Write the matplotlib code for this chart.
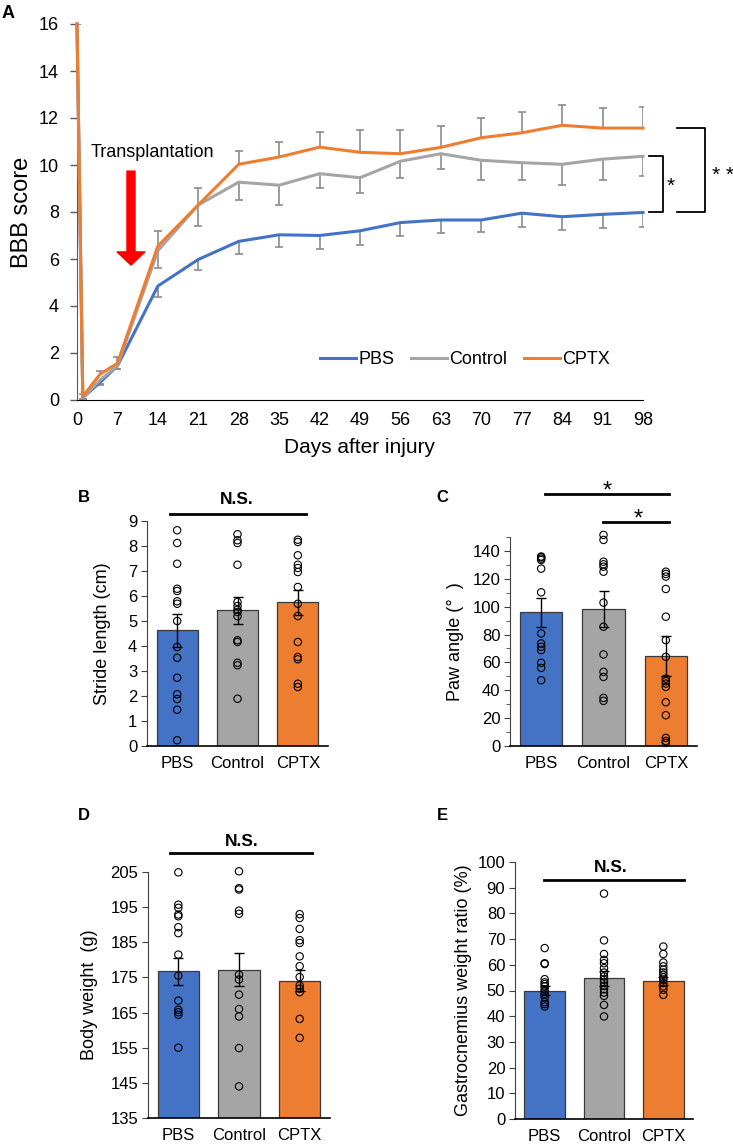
import numpy as np
import matplotlib
matplotlib.use("Agg")
import matplotlib.pyplot as plt

plt.rcParams['font.family'] = ['Liberation Sans', 'DejaVu Sans']

# ---- panel A: BBB score time course ----
days = [0, 1, 4, 7, 14, 21, 28, 35, 42, 49, 56, 63, 70, 77, 84, 91, 98]
pbs_bbb = [16, 0.1, 0.75, 1.45, 4.85, 5.98, 6.75, 7.03, 7.0, 7.2, 7.55, 7.66, 7.66, 7.95, 7.8, 7.9, 7.98]
ctrl_bbb = [16, 0.1, 0.85, 1.45, 6.35, 8.3, 9.27, 9.14, 9.63, 9.46, 10.16, 10.48, 10.2, 10.1, 10.03, 10.25, 10.37]
cptx_bbb = [16, 0.15, 1.1, 1.56, 6.55, 8.3, 10.03, 10.34, 10.76, 10.54, 10.48, 10.75, 11.16, 11.37, 11.69, 11.57, 11.57]
pbs_err = [0, 0.05, 0.1, 0.12, 0.45, 0.43, 0.55, 0.5, 0.56, 0.6, 0.58, 0.54, 0.5, 0.6, 0.58, 0.6, 0.6]
ctrl_err = [0, 0.05, 0.17, 0.15, 0.73, 0.9, 0.74, 0.84, 0.6, 0.65, 0.7, 0.65, 0.84, 0.72, 0.9, 0.87, 0.84]
cptx_err = [0, 0.1, 0.15, 0.28, 0.63, 0.7, 0.55, 0.65, 0.66, 0.95, 1.0, 0.91, 0.85, 0.87, 0.85, 0.87, 0.88]

groups = ['PBS', 'Control', 'CPTX']
colors = ['#4472C4', '#A5A5A5', '#ED7D31']

# ---- panel B: stride length (cm) ----
stride_pbs = [8.63, 8.12, 7.29, 6.29, 6.2, 5.79, 5.69, 5.0, 3.96, 3.53, 2.73, 2.07, 1.88, 1.45, 0.23]
stride_ctrl = [8.47, 8.23, 8.12, 7.25, 5.76, 5.6, 5.45, 5.36, 5.19, 4.23, 4.16, 3.33, 3.23, 1.89]
stride_cptx = [8.25, 8.16, 7.63, 7.25, 7.12, 6.96, 6.36, 5.69, 5.2, 4.16, 3.56, 3.47, 2.49, 2.36]
stride_mean = [4.63, 5.43, 5.76]
stride_sem = [0.65, 0.55, 0.5]

# ---- panel C: paw angle ----
paw_pbs = [136, 135.5, 134.5, 133.5, 127.3, 110.3, 80.8, 73.6, 71.2, 68.8, 59.7, 56.1, 47.2]
paw_ctrl = [151.5, 147.9, 132.3, 130.4, 128.7, 125.1, 102.9, 85.6, 65.7, 53.2, 49.6, 34.5, 32.4]
paw_cptx = [125.1, 123.5, 121.6, 112.7, 92.8, 76, 64, 48.4, 46.5, 44.8, 42.4, 31.4, 22.1, 5.8, 3.6, 2.2]
paw_mean = [95.9, 98.5, 64.7]
paw_sem = [10.2, 13.0, 14.2]

# ---- panel D: body weight (g) ----
bw_pbs = [204.9, 195.7, 194.8, 192.9, 192.4, 189.3, 187.6, 181.5, 175.5, 168.4, 165.8, 165.1, 164.4, 155.0]
bw_ctrl = [205.2, 200.4, 200, 194, 193.1, 175.8, 174.4, 170.1, 166, 163.9, 154.9, 144]
bw_cptx = [193.0, 191.9, 188.8, 185.6, 184.8, 181.0, 178.2, 175.1, 172.7, 171.8, 170.8, 163.2, 157.8]
bw_mean = [176.7, 177.2, 174.1]
bw_sem = [3.8, 4.7, 3.0]

# ---- panel E: gastrocnemius weight ratio (%) ----
gas_pbs = [66.5, 60.6, 60.3, 54.4, 53.2, 52.5, 51.6, 50.5, 49.6, 48.6, 47.3, 45.5, 44.7, 43.8]
gas_ctrl = [87.7, 69.5, 64.2, 61.9, 60.6, 58.7, 57.0, 55.5, 54.2, 53.1, 51.8, 50.5, 49.2, 47.9, 44.4, 39.9]
gas_cptx = [67.1, 64.2, 60.9, 59.4, 58.1, 57.0, 56.1, 55.1, 54.2, 52.9, 51.6, 50.3, 48.3]
gas_mean = [49.9, 54.8, 53.8]
gas_sem = [1.8, 2.9, 1.5]

W, H = 733, 1144
fig = plt.figure(figsize=(W / 100, H / 100), dpi=100)


def box(l, t, r, b):
    # pixel box -> figure fraction rect
    return [l / W, 1 - b / H, (r - l) / W, (b - t) / H]


# ================= A =================
ax = fig.add_axes(box(77, 24, 643, 400))
d = np.array(days)
err_col = '#8C8C8C'
for vals, err, sign in [(pbs_bbb, pbs_err, -1), (ctrl_bbb, ctrl_err, -1), (cptx_bbb, cptx_err, 1)]:
    v = np.array(vals)
    e = np.array(err)
    ax.vlines(d, v, v + sign * e, color=err_col, lw=1.2, zorder=1)
    ax.plot(d, v + sign * e, ls='none', marker='_', ms=5.5, mew=1.2, color=err_col, zorder=1)

for vals, c, g in zip([pbs_bbb, ctrl_bbb, cptx_bbb], colors, groups):
    ax.plot(days, vals, color=c, lw=2.2, label=g, zorder=3, clip_on=False)

ax.set_xlim(0, 98)
ax.set_ylim(0, 16)
ax.set_xticks(range(0, 99, 7))
ax.set_yticks(range(0, 17, 2))
ax.tick_params(axis='x', length=0, pad=9, labelsize=13)
ax.tick_params(axis='y', length=5, width=1, color='#595959', pad=8, labelsize=13)
for s in ['top', 'right']:
    ax.spines[s].set_visible(False)
ax.spines['left'].set_color('#595959')
ax.spines['bottom'].set_color('black')
ax.set_xlabel('Days after injury', fontsize=15, labelpad=6)
ax.set_ylabel('BBB score', fontsize=17)
ax.yaxis.set_label_coords(-0.078, 0.5)

ax.legend(loc='center', bbox_to_anchor=(465 / W, 1 - 360 / H), bbox_transform=fig.transFigure,
          ncol=3, frameon=False, fontsize=13, handlelength=2.0, handletextpad=0.15,
          columnspacing=0.9)

ax.text(2.4, 10.55, 'Transplantation', fontsize=13, va='center', ha='left')
ax.annotate('', xy=(9.35, 5.74), xytext=(9.35, 9.74),
            arrowprops=dict(width=5.8, headwidth=20, headlength=9.5, color='#FF0000', shrink=0))

# significance brackets
br = dict(color='black', lw=1.3, clip_on=False)
ax.plot([99.0, 101.5, 101.5, 99.0], [ctrl_bbb[-1], ctrl_bbb[-1], pbs_bbb[-1], pbs_bbb[-1]], **br)
ax.plot([103.9, 108.7, 108.7, 103.9], [cptx_bbb[-1], cptx_bbb[-1], pbs_bbb[-1], pbs_bbb[-1]], **br)
ax.text(102.8, 9.1, '*', fontsize=15, ha='center', va='center')
ax.text(111.8, 9.55, '* *', fontsize=15, ha='center', va='center')

fig.text(2 / W, 1 - 13 / H, 'A', fontsize=13, fontweight='bold', va='center')


# ================= bar panels =================
def bar_panel(rect, data, means, sems, ylim, yticks, ylabel, minor=None, labelpad=4):
    a = fig.add_axes(rect)
    x = np.arange(3)
    a.bar(x, np.array(means) - ylim[0], bottom=ylim[0], width=0.68, color=colors,
          edgecolor='#3A3A3A', lw=0.9, zorder=1)
    a.errorbar(x, means, yerr=sems, fmt='none', ecolor='black', elinewidth=1,
               capsize=3.5, capthick=1, zorder=2)
    for i, v in enumerate(data):
        a.scatter(np.full(len(v), i), v, s=28, facecolors='none', edgecolors='black',
                  linewidths=0.8, zorder=3, clip_on=False)
    a.set_xlim(-0.5, 2.5)
    a.set_ylim(*ylim)
    a.set_xticks(x)
    a.set_xticklabels(groups)
    a.set_yticks(yticks)
    if minor is not None:
        a.set_yticks(minor, minor=True)
        a.tick_params(axis='y', which='minor', length=3, color='#404040')
    a.tick_params(axis='x', length=0, pad=7, labelsize=12)
    a.tick_params(axis='y', length=4, color='#404040', pad=3, labelsize=12)
    for s in ['top', 'right']:
        a.spines[s].set_visible(False)
    a.spines['left'].set_color('#404040')
    a.spines['bottom'].set_linewidth(1.2)
    a.set_ylabel(ylabel, fontsize=13, labelpad=labelpad)
    return a


bB = bar_panel(box(147, 521, 328, 746), [stride_pbs, stride_ctrl, stride_cptx],
               stride_mean, stride_sem, (0, 9), range(0, 10), 'Stride length (cm)', labelpad=12)
bB.plot([-0.12, 2.14], [9.28, 9.28], color='black', lw=2, clip_on=False)
bB.text(0.99, 9.86, 'N.S.', fontsize=12.5, fontweight='bold', ha='center', va='center')
fig.text(78 / W, 1 - 498 / H, 'B', fontsize=12, fontweight='bold', va='center')

bC = bar_panel(box(510, 537, 697, 746), [paw_pbs, paw_ctrl, paw_cptx],
               paw_mean, paw_sem, (0, 150), range(0, 141, 20), 'Paw angle (\u00b0  )',
               minor=range(10, 151, 20), labelpad=6)
bC.plot([0.06, 2.05], [180.8, 180.8], color='black', lw=2, clip_on=False)
bC.plot([0.99, 2.05], [160.8, 160.8], color='black', lw=2, clip_on=False)
bC.text(1.06, 175, '*', fontsize=17, ha='center', va='bottom')
bC.text(1.55, 155, '*', fontsize=17, ha='center', va='bottom')
fig.text(436 / W, 1 - 498 / H, 'C', fontsize=12, fontweight='bold', va='center')

bD = bar_panel(box(148, 872, 330, 1118), [bw_pbs, bw_ctrl, bw_cptx],
               bw_mean, bw_sem, (135, 205), range(135, 206, 10), 'Body weight  (g)', labelpad=9)
bD.plot([-0.14, 2.2], [210.4, 210.4], color='black', lw=2, clip_on=False)
bD.text(1.05, 213.8, 'N.S.', fontsize=12.5, fontweight='bold', ha='center', va='center')
fig.text(78 / W, 1 - 815 / H, 'D', fontsize=12, fontweight='bold', va='center')

bE = bar_panel(box(515, 862, 693, 1119), [gas_pbs, gas_ctrl, gas_cptx],
               gas_mean, gas_sem, (0, 100), range(0, 101, 10), 'Gastrocnemius weight ratio (%)')
bE.plot([-0.01, 2.35], [93, 93], color='black', lw=2, clip_on=False)
bE.text(1.12, 98, 'N.S.', fontsize=12.5, fontweight='bold', ha='center', va='center')
fig.text(437 / W, 1 - 815 / H, 'E', fontsize=12, fontweight='bold', va='center')

fig.savefig('out.png', dpi=100)
